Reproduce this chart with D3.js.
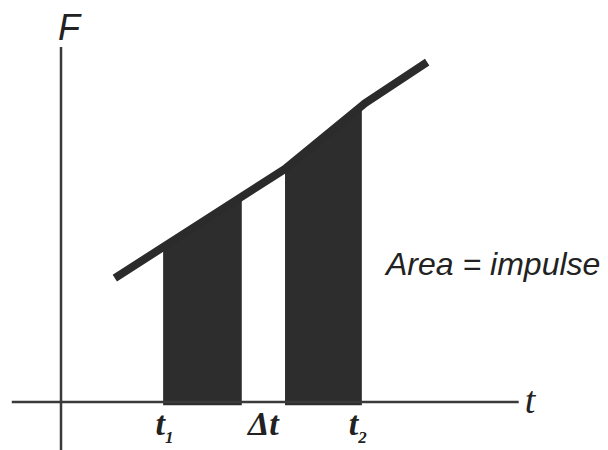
<!DOCTYPE html>
<meta charset="utf-8">
<style type="text/css">
body { margin: 0; background: #fff; }
.axis-line { stroke: #3a3a3a; stroke-width: 2.5; fill: none; }
.force { fill: none; stroke: #2b2b2b; stroke-width: 8; stroke-linecap: butt; stroke-linejoin: miter; }
.strip { fill: #2d2d2d; }
.lbl-serif { font-family: "Liberation Serif", "DejaVu Serif", serif; font-style: italic; font-weight: bold; fill: #222; }
.lbl-sans { font-family: "Liberation Sans", Arial, sans-serif; font-style: italic; fill: #222; }
</style>
<body>
<script src="https://d3js.org/d3.v7.min.js"></script>
<script>

var width = 608, height = 450;

// force curve F(t), arbitrary units
var curveT = [1.17, 4.87, 6.61, 7.96];
var curveF = [3.54, 6.66, 8.54, 9.71];

// shaded strips (start, end) in t
var stripStart = [2.22, 4.87];
var stripEnd   = [3.93, 6.54];

// labels under the t axis
var tickT     = [2.25, 4.4, 6.45];
var tickLabel = [["t", "1"], ["Δt", ""], ["t", "2"]];

// axis extents
var tAxis = [-1.07, 9.95];
var fAxis = [-1.4, 10.14];

var x = d3.scaleLinear().domain([0, 10]).range([61, 521]);
var y = d3.scaleLinear().domain([0, 10]).range([402, 52]);

var data = curveT.map(function(t, i) { return {t: t, f: curveF[i]}; });

var svg = d3.select("body").append("svg")
    .attr("width", width)
    .attr("height", height);

var defs = svg.append("defs");
stripStart.forEach(function(s, i) {
  defs.append("clipPath").attr("id", "strip" + i)
    .append("rect")
      .attr("x", x(s))
      .attr("width", x(stripEnd[i]) - x(s))
      .attr("y", 0)
      .attr("height", height);
});

var area = d3.area()
    .x(function(d) { return x(d.t); })
    .y0(y(-0.09))
    .y1(function(d) { return y(d.f); });

// strips = area under the curve clipped to each interval
stripStart.forEach(function(s, i) {
  svg.append("path")
      .datum(data)
      .attr("class", "strip")
      .attr("clip-path", "url(#strip" + i + ")")
      .attr("d", area);
});

// axes
svg.append("line").attr("class", "axis-line")
    .attr("x1", x(tAxis[0])).attr("x2", x(tAxis[1]))
    .attr("y1", y(0)).attr("y2", y(0));
svg.append("line").attr("class", "axis-line")
    .attr("x1", x(0)).attr("x2", x(0))
    .attr("y1", y(fAxis[0])).attr("y2", y(fAxis[1]));

var line = d3.line()
    .x(function(d) { return x(d.t); })
    .y(function(d) { return y(d.f); });

svg.append("path")
    .datum(data)
    .attr("class", "force")
    .attr("d", line);

// axis titles
svg.append("text").attr("class", "lbl-sans")
    .attr("x", x(0) - 3).attr("y", 40)
    .style("font-size", "36px")
    .text("F");

svg.append("text").attr("class", "lbl-serif")
    .attr("x", x(tAxis[1]) + 6).attr("y", 413)
    .style("font-size", "38px")
    .style("font-weight", "normal")
    .text("t");

svg.append("text").attr("class", "lbl-sans")
    .attr("x", 386).attr("y", 275)
    .style("font-size", "32px")
    .text("Area = impulse");

// labels under the axis
tickT.forEach(function(t, i) {
  var txt = svg.append("text").attr("class", "lbl-serif")
      .attr("x", x(t)).attr("y", 435)
      .attr("text-anchor", "middle")
      .style("font-size", "34px");
  txt.append("tspan").text(tickLabel[i][0]);
  if (tickLabel[i][1]) {
    txt.append("tspan")
        .attr("dy", 8)
        .style("font-size", "17px")
        .text(tickLabel[i][1]);
  }
});

</script>
</body>
